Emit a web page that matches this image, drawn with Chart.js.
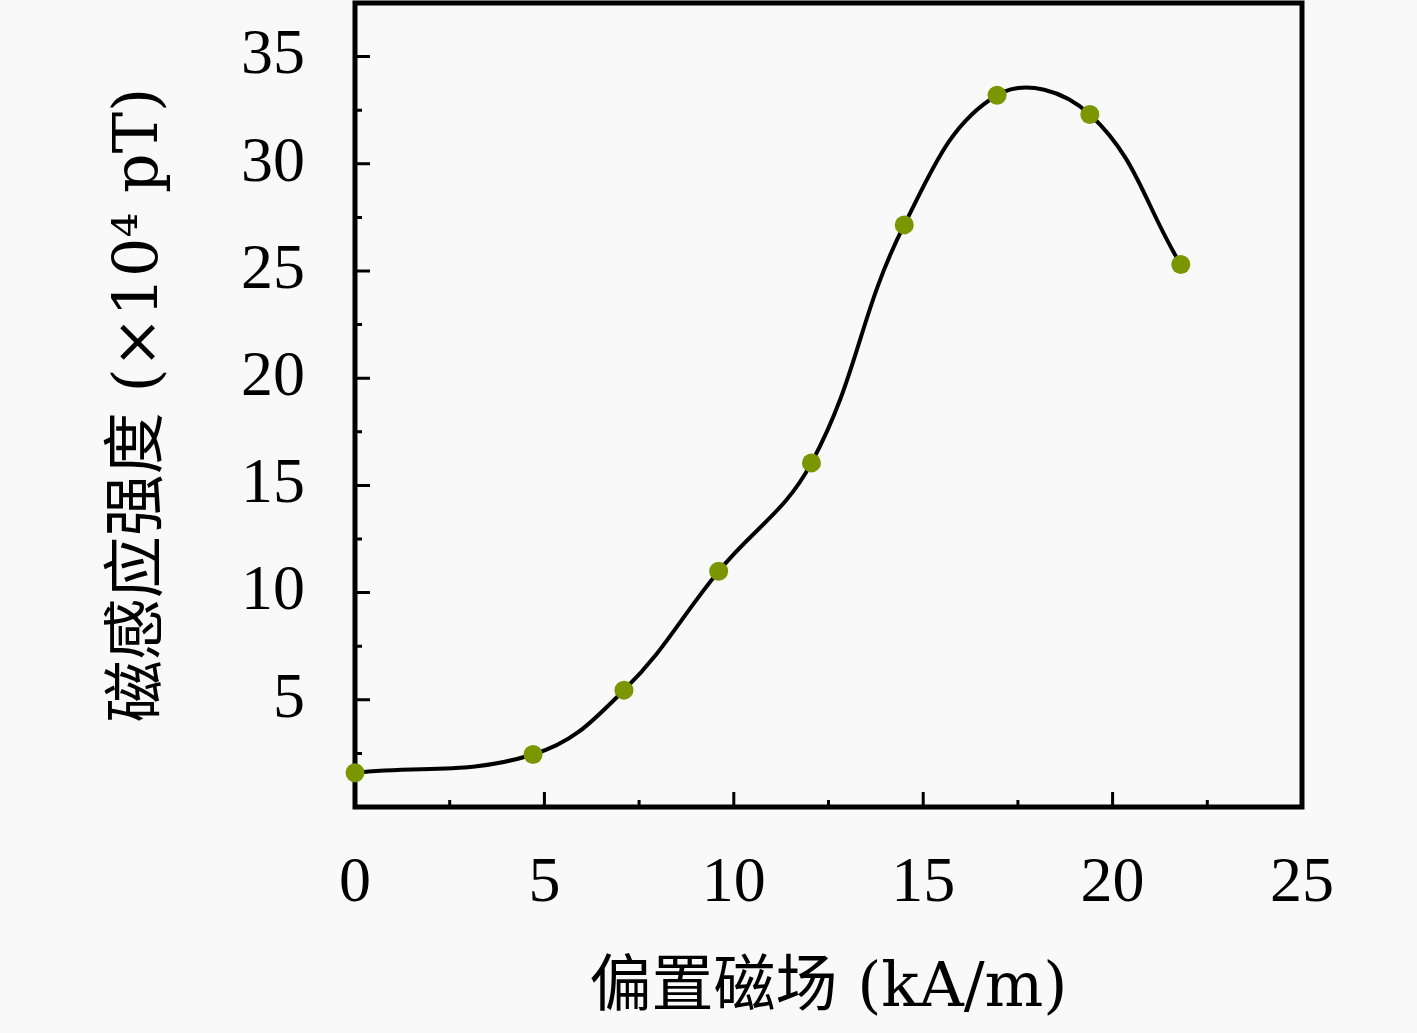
<!DOCTYPE html>
<html>
<head>
<meta charset="utf-8">
<script src="https://cdn.jsdelivr.net/npm/chart.js@4.4.0/dist/chart.umd.min.js"></script>
<style>
    html, body { margin: 0; padding: 0; background: #f9f9f9; }
    #wrap { width: 1417px; height: 1033px; }
</style>
</head>
<body>
<div id="wrap"><canvas id="fieldChart"></canvas></div>
<script>
// ==== DATA ====
const biasField = [0, 4.7, 7.1, 9.6, 12.05, 14.5, 16.95, 19.4, 21.8];
const fluxDensity = [1.6, 2.45, 5.45, 11.0, 16.05, 27.15, 33.2, 32.3, 25.3];
const xTicks = [0, 5, 10, 15, 20, 25];
const yTicks = [5, 10, 15, 20, 25, 30, 35];
const xMinorTicks = [2.5, 7.5, 12.5, 17.5, 22.5];
const yMinorTicks = [2.5, 7.5, 12.5, 17.5, 22.5, 27.5, 32.5];

const labelFont = { family: '"Liberation Serif", "Noto Sans CJK SC"', size: 64 };
const titleFont = { family: '"DejaVu Serif", "Noto Sans CJK SC"', size: 62 };

// frame + inward ticks, drawn under the markers
const axisFrame = {
    id: 'axisFrame',
    beforeDatasetsDraw(chart) {
        const { ctx, chartArea: a, scales: { x, y } } = chart;
        ctx.save();
        ctx.strokeStyle = '#000';
        ctx.lineWidth = 3;
        ctx.beginPath();
        xTicks.forEach(v => {
            const px = x.getPixelForValue(v);
            ctx.moveTo(px, a.bottom); ctx.lineTo(px, a.bottom - 15);
        });
        xMinorTicks.forEach(v => {
            const px = x.getPixelForValue(v);
            ctx.moveTo(px, a.bottom); ctx.lineTo(px, a.bottom - 7);
        });
        yTicks.forEach(v => {
            const py = y.getPixelForValue(v);
            ctx.moveTo(a.left, py); ctx.lineTo(a.left + 15, py);
        });
        yMinorTicks.forEach(v => {
            const py = y.getPixelForValue(v);
            ctx.moveTo(a.left, py); ctx.lineTo(a.left + 7, py);
        });
        ctx.stroke();
        ctx.lineWidth = 5;
        ctx.strokeRect(a.left, a.top, a.right - a.left, a.bottom - a.top);
        ctx.restore();
    }
};

document.addEventListener("DOMContentLoaded", function () {
    const ctx = document.getElementById('fieldChart').getContext('2d');

    new Chart(ctx, {
        type: 'line',
        data: {
            datasets: [{
                data: biasField.map((v, i) => ({ x: v, y: fluxDensity[i] })),
                borderColor: '#000',
                borderWidth: 4,
                tension: 0.4,
                pointRadius: 9.5,
                pointBorderWidth: 0,
                pointBackgroundColor: '#7b9600',
                clip: false
            }]
        },
        options: {
            responsive: true,
            maintainAspectRatio: false,
            devicePixelRatio: 1,
            animation: false,
            layout: { autoPadding: false, padding: { top: 3, right: 115, left: 0, bottom: 0 } },
            plugins: { legend: { display: false }, tooltip: { enabled: false } },
            scales: {
                x: {
                    type: 'linear',
                    min: 0,
                    max: 25,
                    grid: { display: false },
                    border: { display: false },
                    afterBuildTicks: s => { s.ticks = xTicks.map(v => ({ value: v })); },
                    afterFit: s => { s.height = 226; s.paddingLeft = 0; s.paddingRight = 0; },
                    ticks: { color: '#000', font: labelFont, padding: 31, maxRotation: 0 },
                    title: {
                        display: true,
                        text: '偏置磁场 (kA/m)',
                        color: '#000',
                        font: titleFont,
                        padding: { top: 0, bottom: 6 }
                    }
                },
                y: {
                    min: 0,
                    max: 37.5,
                    grid: { display: false },
                    border: { display: false },
                    afterBuildTicks: s => { s.ticks = yTicks.map(v => ({ value: v })); },
                    afterFit: s => { s.width = 355; s.paddingTop = 0; s.paddingBottom = 0; },
                    ticks: { color: '#000', font: labelFont, padding: 42 },
                    title: {
                        display: true,
                        text: '磁感应强度 (×10⁴ pT)',
                        color: '#000',
                        font: titleFont,
                        padding: { top: 104, bottom: 0 }
                    }
                }
            }
        },
        plugins: [axisFrame]
    });
});
</script>
</body>
</html>
